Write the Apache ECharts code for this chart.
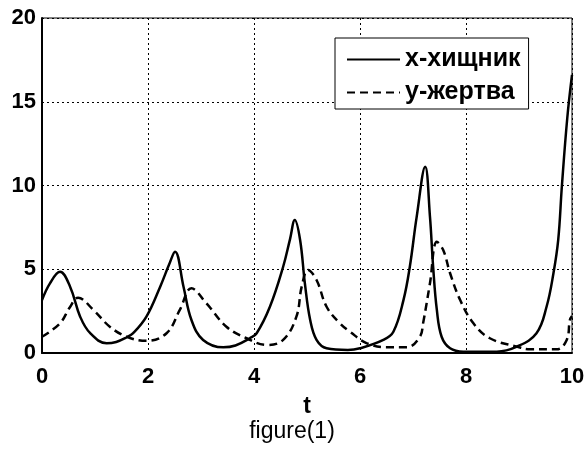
<!DOCTYPE html>
<html>
<head>
<meta charset="utf-8">
<script src="https://cdn.jsdelivr.net/npm/echarts@6/dist/echarts.min.js"></script>
<style>
  html, body { margin: 0; padding: 0; background: #fff; }
  #main { width: 584px; height: 449px; }
</style>
</head>
<body>
<div id="main"></div>
<script>
// x-хищник (predator), solid line
var predT = [0, 0.15, 0.34, 0.53, 0.72, 0.91, 1.22, 1.4, 1.6, 1.72, 1.97, 2.23, 2.4, 2.51, 2.67, 2.82, 3.04, 3.42, 3.65, 3.92, 4.05, 4.3, 4.55, 4.68, 4.77, 4.87, 4.96, 5.06, 5.18, 5.37, 5.77, 6.0, 6.44, 6.63, 6.82, 6.94, 7.07, 7.23, 7.32, 7.38, 7.45, 7.54, 7.7, 7.95, 8.58, 8.96, 9.33, 9.52, 9.65, 9.74, 9.81, 9.91, 10];
var predX = [3.16, 4.16, 4.85, 3.96, 2.17, 1.18, 0.58, 0.66, 0.94, 1.18, 2.17, 3.96, 5.3, 6.05, 3.96, 1.97, 0.78, 0.34, 0.45, 0.88, 1.18, 2.76, 5.15, 6.8, 7.94, 6.75, 4.16, 1.97, 0.78, 0.28, 0.18, 0.28, 0.78, 1.27, 3.16, 5.15, 8.14, 11.12, 8.14, 5.15, 2.57, 0.97, 0.28, 0.08, 0.08, 0.38, 1.18, 2.76, 4.76, 6.75, 10, 14, 16.6];

// y-жертва (prey), dashed line
var preyT = [0, 0.34, 0.52, 0.68, 0.97, 1.28, 1.6, 1.97, 2.35, 2.6, 2.82, 3.1, 3.48, 3.86, 4.24, 4.55, 4.8, 4.9, 5.02, 5.18, 5.37, 5.62, 5.81, 6.13, 6.5, 6.88, 7.13, 7.19, 7.32, 7.45, 7.57, 7.7, 7.89, 8.14, 8.45, 8.96, 9.21, 9.71, 9.9, 9.96, 10];
var preyY = [0.97, 1.77, 2.7, 3.3, 2.57, 1.57, 0.97, 0.73, 1.18, 2.57, 3.86, 2.97, 1.57, 0.88, 0.48, 0.78, 2.17, 3.96, 4.96, 4.36, 2.76, 1.77, 1.27, 0.58, 0.34, 0.34, 0.97, 1.77, 4.16, 6.64, 6.15, 4.76, 3.16, 1.77, 0.88, 0.38, 0.22, 0.22, 0.78, 1.97, 2.2];

var xTicks = [0, 2, 4, 6, 8, 10];
var yTicks = [0, 5, 10, 15, 20];

function pairs(t, v) {
    var res = [];
    for (var i = 0; i < t.length; i++) {
        res.push([t[i], v[i]]);
    }
    return res;
}

var myChart = echarts.init(document.getElementById('main'));
var fontFam = 'Arial, "Liberation Sans", sans-serif';

var option = {
    animation: false,
    backgroundColor: '#fff',
    title: {
        text: 'figure(1)',
        left: 'center',
        top: 415,
        textStyle: {
            color: '#000',
            fontFamily: fontFam,
            fontWeight: 'normal',
            fontSize: 23
        }
    },
    grid: {
        left: 42,
        right: 12,
        top: 18,
        bottom: 96,
        show: true,
        borderColor: '#000',
        borderWidth: 1,
        outerBoundsMode: 'none'
    },
    legend: {
        left: 335,
        top: 38,
        orient: 'vertical',
        backgroundColor: '#fff',
        borderColor: '#000',
        borderWidth: 1,
        borderRadius: 0,
        padding: [9, 8, 4, 11],
        itemWidth: 53,
        itemHeight: 14,
        itemGap: 8,
        itemStyle: { opacity: 0 },
        textStyle: {
            color: '#000',
            fontFamily: fontFam,
            fontWeight: 'bold',
            fontSize: 25
        },
        data: ['x-хищник', 'y-жертва']
    },
    xAxis: {
        type: 'value',
        min: 0,
        max: xTicks[xTicks.length - 1],
        interval: 2,
        name: 't',
        nameLocation: 'middle',
        nameGap: 42,
        nameTextStyle: {
            color: '#000',
            fontFamily: fontFam,
            fontWeight: 'bold',
            fontSize: 23
        },
        axisLine: { lineStyle: { color: '#000', width: 2 } },
        axisTick: { show: false },
        axisLabel: {
            margin: 13,
            color: '#000',
            fontFamily: fontFam,
            fontWeight: 'bold',
            fontSize: 22
        },
        splitLine: { lineStyle: { color: '#000', type: [2, 3], width: 1 } }
    },
    yAxis: {
        type: 'value',
        min: 0,
        max: yTicks[yTicks.length - 1],
        interval: 5,
        axisLine: { show: true, lineStyle: { color: '#000', width: 2 } },
        axisTick: { show: false },
        axisLabel: {
            margin: 6,
            color: '#000',
            fontFamily: fontFam,
            fontWeight: 'bold',
            fontSize: 22
        },
        splitLine: { lineStyle: { color: '#000', type: [2, 3], width: 1 } }
    },
    series: [
        {
            name: 'x-хищник',
            type: 'line',
            symbol: 'none',
            smooth: 0.4,
            clip: true,
            lineStyle: { color: '#000', width: 2.5 },
            itemStyle: { color: '#000' },
            data: pairs(predT, predX)
        },
        {
            name: 'y-жертва',
            type: 'line',
            symbol: 'none',
            smooth: 0.4,
            clip: true,
            lineStyle: { color: '#000', width: 2.5, type: [8, 5] },
            itemStyle: { color: '#000' },
            data: pairs(preyT, preyY)
        }
    ]
};
myChart.setOption(option);
</script>
</body>
</html>
